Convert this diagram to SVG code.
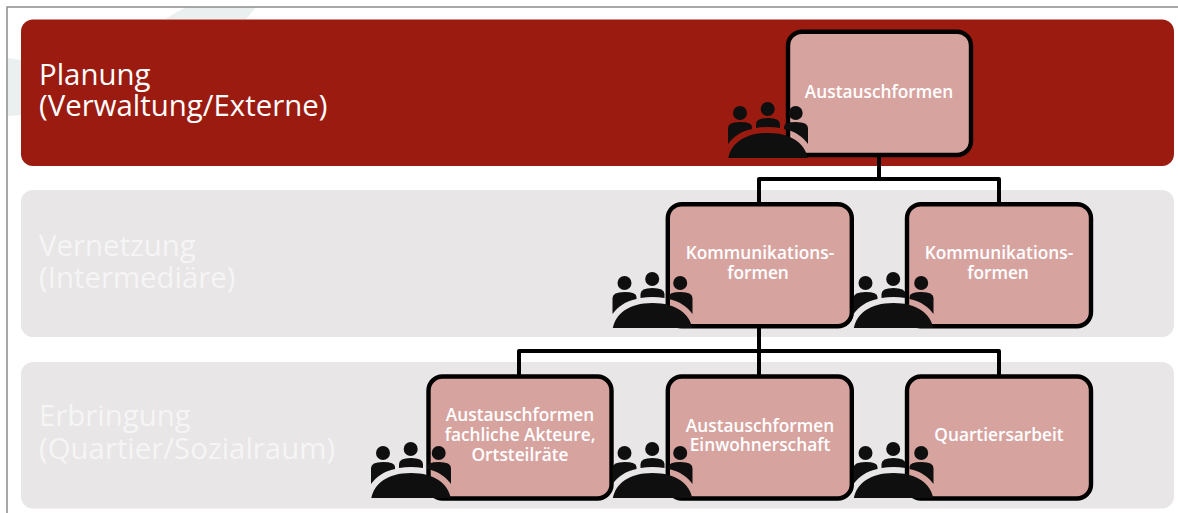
<svg xmlns="http://www.w3.org/2000/svg" width="1178" height="513" viewBox="0 0 1178 513">
<style>
.band{fill:#e8e6e7}
.node{fill:#d7a39f;stroke:#000;stroke-width:4.400}
.nt{font-family:"Open Sans",sans-serif;font-size:17.300px;font-weight:600;fill:#fff;text-anchor:middle}
.bt{font-family:"Open Sans",sans-serif;font-size:29.400px;fill:#fff}
.bg{fill:#e9f0ef}
.ic{fill:#0f0f0f}
.conn{fill:none;stroke:#000;stroke-width:4;stroke-linejoin:round}
</style>
<defs>
<g id="people">
<circle cx="12" cy="11" r="7"/><circle cx="39.700" cy="7" r="7"/><circle cx="67.700" cy="11" r="7"/>
<path d="M0 42V26Q0 20 12 20Q24 20 24 25V27C13 29 5 35 0 42Z"/>
<path d="M28 26V22Q28 16 40 16Q52 16 52 22V26Q40 24 28 26Z"/>
<path d="M80 42V26Q80 20 68 20Q56 20 56 25V27C67 29 75 35 80 42Z"/>
<path d="M0.300 56C3 42 16 31 40 31C64 31 77 42 79.700 56Z"/>
</g>
</defs>
<rect width="1178" height="513" fill="#fff"/>
<path class="bg" d="M165 19L186 7H256L246 19ZM7 58L21 60V115L7 116Z"/>
<path d="M7 513V7H1178" fill="none" stroke="#8c8c8c" stroke-width="1.500"/>
<g id="bands">
<rect x="21" y="19.500" width="1153" height="146.500" rx="12" fill="#9b1b11"/>
<rect class="band" x="21" y="190" width="1153" height="147" rx="12"/>
<rect class="band" x="21" y="362" width="1153" height="146.500" rx="12"/>
<text class="bt" x="39" y="85">Planung</text>
<text class="bt" x="39" y="116">(Verwaltung/Externe)</text>
<text class="bt" x="39" y="256" opacity="0.6">Vernetzung</text>
<text class="bt" x="39" y="288" opacity="0.6">(Intermediäre)</text>
<text class="bt" x="39" y="426" opacity="0.6">Erbringung</text>
<text class="bt" x="39" y="459" opacity="0.6">(Quartier/Sozialraum)</text>
</g>
<g id="connectors">
<path class="conn" d="M879 155V179H759V204M879 179H999V204"/>
<path class="conn" d="M759 326V351H519V377M759 351V377M759 351H999V377"/>
</g>
<g id="n1"><rect class="node" x="788" y="31.700" width="183" height="123.300" rx="14"/><text class="nt" x="879" y="98">Austauschformen</text><use href="#people" class="ic" x="728" y="102"/></g>
<g id="n2"><rect class="node" x="667.800" y="204.200" width="184" height="122" rx="14"/><text class="nt" x="760" y="259">Kommunikations-</text><text class="nt" x="758" y="279">formen</text><use href="#people" class="ic" x="612.500" y="272"/></g>
<g id="n3"><rect class="node" x="907" y="204.200" width="184" height="122" rx="14"/><text class="nt" x="999" y="259">Kommunikations-</text><text class="nt" x="998" y="279">formen</text><use href="#people" class="ic" x="853.500" y="272"/></g>
<g id="n4"><rect class="node" x="428.500" y="376.500" width="183" height="122" rx="14"/><text class="nt" x="520" y="421">Austauschformen</text><text class="nt" x="520" y="441">fachliche Akteure,</text><text class="nt" x="520" y="461">Ortsteilräte</text><use href="#people" class="ic" x="371" y="442"/></g>
<g id="n5"><rect class="node" x="667.800" y="376.500" width="184" height="122" rx="14"/><text class="nt" x="760" y="432">Austauschformen</text><text class="nt" x="760" y="451">Einwohnerschaft</text><use href="#people" class="ic" x="612.500" y="442"/></g>
<g id="n6"><rect class="node" x="907" y="376.500" width="184" height="122" rx="14"/><text class="nt" x="999" y="441">Quartiersarbeit</text><use href="#people" class="ic" x="853.500" y="442"/></g>
</svg>
